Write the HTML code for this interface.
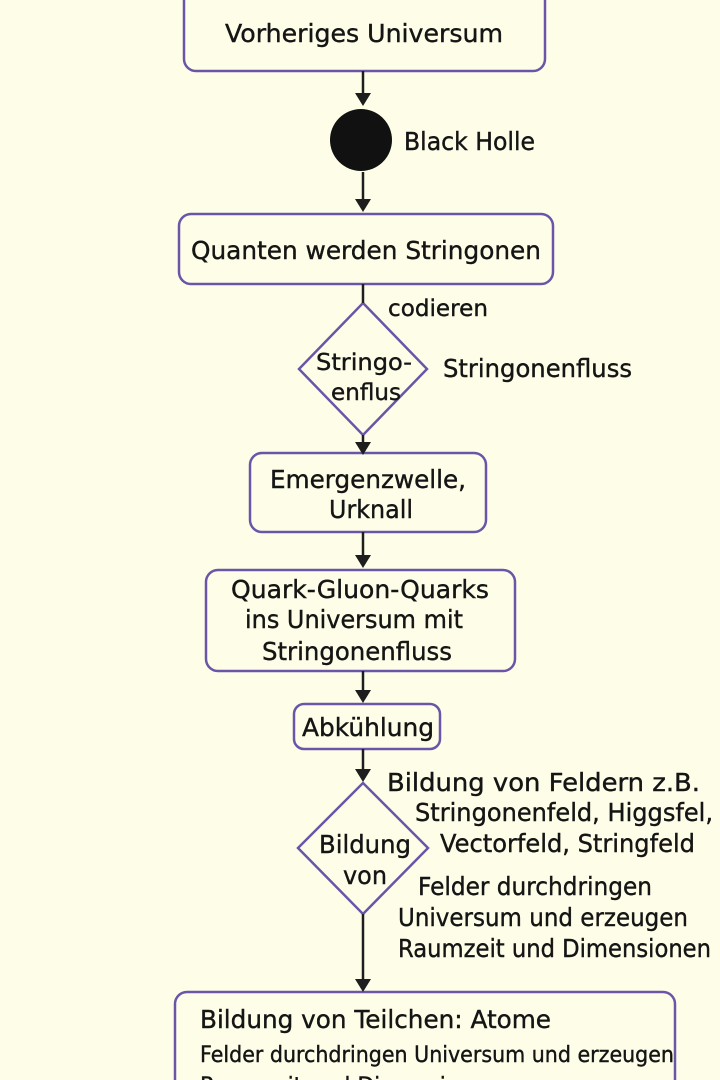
<!DOCTYPE html>
<html><head><meta charset="utf-8"><style>
html,body{margin:0;padding:0;background:#fefee8;}
svg{display:block;}
text{font-family:"DejaVu Sans","Liberation Sans",sans-serif;fill:#151515;stroke:#151515;stroke-width:0.4;}
</style></head><body>
<svg width="720" height="1080" viewBox="0 0 720 1080" xmlns="http://www.w3.org/2000/svg">
<rect width="720" height="1080" fill="#fefee8"/>
<g fill="none" stroke="#6a55a8" stroke-width="2.5">
<rect x="184" y="-12" width="361" height="83" rx="12"/>
<rect x="179" y="214" width="374" height="70" rx="12"/>
<polygon points="363,303 427,369 363,435 299,369"/>
<rect x="250" y="453" width="236" height="79" rx="12"/>
<rect x="206" y="570" width="309" height="101" rx="12"/>
<rect x="294" y="704" width="146" height="45" rx="10"/>
<polygon points="363,783 428,848 363,914 298,848"/>
<rect x="175" y="992" width="500" height="110" rx="12"/>
</g>
<g stroke="#1e1e1e" stroke-width="2.5">
<line x1="363" y1="71" x2="363" y2="96"/>
<line x1="363" y1="172" x2="363" y2="202"/>
<line x1="363" y1="284" x2="363" y2="303"/>
<line x1="363" y1="435" x2="363" y2="445"/>
<line x1="363" y1="532" x2="363" y2="558"/>
<line x1="363" y1="671" x2="363" y2="693"/>
<line x1="363" y1="749" x2="363" y2="772"/>
<line x1="363" y1="914" x2="363" y2="982"/>
</g>
<g fill="#1e1e1e">
<polygon points="355,93 371,93 363,106"/>
<polygon points="355,199 371,199 363,212"/>
<polygon points="355,442 371,442 363,455"/>
<polygon points="355,555 371,555 363,568"/>
<polygon points="355,690 371,690 363,703"/>
<polygon points="355,769 371,769 363,782"/>
<polygon points="355,979 371,979 363,992"/>
</g>
<circle cx="361" cy="140" r="31" fill="#111"/>
<g font-size="25">
<text x="364" y="42" text-anchor="middle" textLength="278" lengthAdjust="spacingAndGlyphs">Vorheriges Universum</text>
<text x="404" y="150" textLength="131" lengthAdjust="spacingAndGlyphs">Black Holle</text>
<text x="366" y="259" text-anchor="middle" textLength="350" lengthAdjust="spacingAndGlyphs">Quanten werden Stringonen</text>
<text x="388" y="316" font-size="23" textLength="100" lengthAdjust="spacingAndGlyphs">codieren</text>
<text x="364" y="370" font-size="23" text-anchor="middle" textLength="96" lengthAdjust="spacingAndGlyphs">Stringo-</text>
<text x="366" y="400" font-size="23" text-anchor="middle" textLength="70" lengthAdjust="spacingAndGlyphs">enflus</text>
<text x="443" y="377" textLength="189" lengthAdjust="spacingAndGlyphs">Stringonenfluss</text>
<text x="368" y="488" text-anchor="middle" textLength="196" lengthAdjust="spacingAndGlyphs">Emergenzwelle,</text>
<text x="371" y="518" text-anchor="middle" textLength="84" lengthAdjust="spacingAndGlyphs">Urknall</text>
<text x="360" y="598" text-anchor="middle" textLength="258" lengthAdjust="spacingAndGlyphs">Quark-Gluon-Quarks</text>
<text x="354" y="628" text-anchor="middle" textLength="218" lengthAdjust="spacingAndGlyphs">ins Universum mit</text>
<text x="357" y="660" text-anchor="middle" textLength="190" lengthAdjust="spacingAndGlyphs">Stringonenfluss</text>
<text x="368" y="736" text-anchor="middle" textLength="132" lengthAdjust="spacingAndGlyphs">Abkühlung</text>
<text x="365" y="853" text-anchor="middle" textLength="92" lengthAdjust="spacingAndGlyphs">Bildung</text>
<text x="365" y="884" text-anchor="middle" textLength="44" lengthAdjust="spacingAndGlyphs">von</text>
<text x="387" y="791" textLength="313" lengthAdjust="spacingAndGlyphs">Bildung von Feldern z.B.</text>
<text x="415" y="821" textLength="298" lengthAdjust="spacingAndGlyphs">Stringonenfeld, Higgsfel,</text>
<text x="440" y="852" textLength="255" lengthAdjust="spacingAndGlyphs">Vectorfeld, Stringfeld</text>
<text x="418" y="895" textLength="234" lengthAdjust="spacingAndGlyphs">Felder durchdringen</text>
<text x="398" y="926" textLength="290" lengthAdjust="spacingAndGlyphs">Universum und erzeugen</text>
<text x="398" y="957" textLength="313" lengthAdjust="spacingAndGlyphs">Raumzeit und Dimensionen</text>
<text x="200" y="1028" textLength="351" lengthAdjust="spacingAndGlyphs">Bildung von Teilchen: Atome</text>
<text x="200" y="1062" font-size="22" textLength="474" lengthAdjust="spacingAndGlyphs">Felder durchdringen Universum und erzeugen</text>
<text x="200" y="1093" font-size="22" textLength="300" lengthAdjust="spacingAndGlyphs">Raumzeit und Dimensionen</text>
</g>
</svg>
</body></html>
